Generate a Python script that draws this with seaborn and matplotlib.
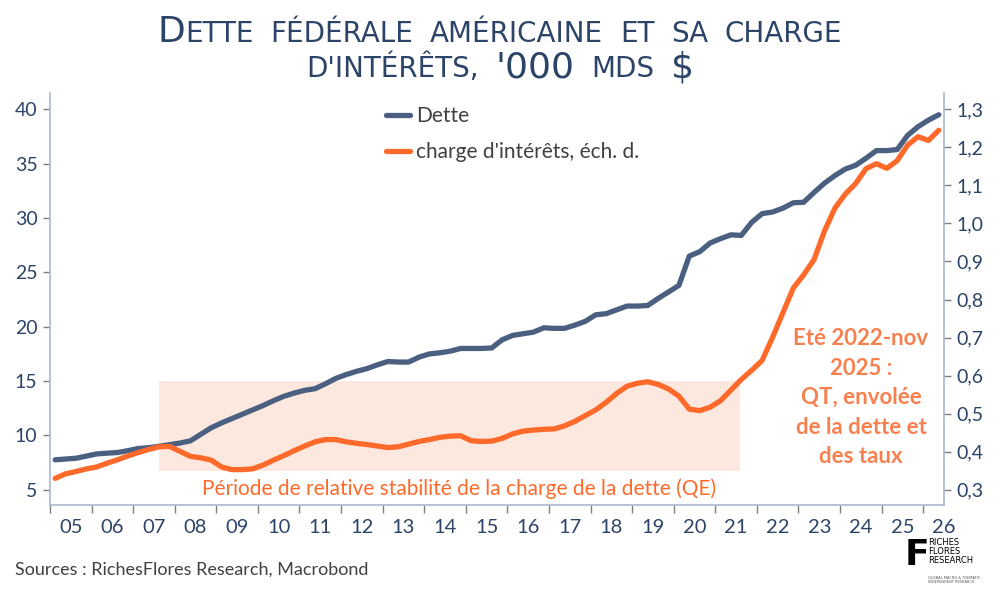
import numpy as np
import pandas as pd
import matplotlib
matplotlib.use("Agg")
import matplotlib.pyplot as plt
import matplotlib.patches as mpatches
from matplotlib.offsetbox import TextArea, HPacker, VPacker, AnnotationBbox
from matplotlib.ticker import FuncFormatter, FixedLocator
import seaborn as sns

# --- data (quarterly) ---
quarters = pd.period_range("2005Q1", periods=86, freq="Q")
dette = [
    7.76, 7.83, 7.90, 8.10, 8.30, 8.37, 8.43, 8.60, 8.80, 8.87,
    9.00, 9.15, 9.30, 9.50, 10.10, 10.70, 11.15, 11.55, 11.95, 12.35,
    12.75, 13.20, 13.60, 13.90, 14.15, 14.30, 14.75, 15.25, 15.60, 15.90,
    16.15, 16.50, 16.80, 16.75, 16.75, 17.20, 17.50, 17.60, 17.75, 18.00,
    18.00, 18.00, 18.05, 18.80, 19.20, 19.35, 19.50, 19.90, 19.85, 19.85,
    20.15, 20.50, 21.10, 21.20, 21.55, 21.90, 21.90, 21.95, 22.60, 23.20,
    23.80, 26.50, 26.90, 27.70, 28.10, 28.45, 28.40, 29.60, 30.40, 30.55,
    30.90, 31.40, 31.45, 32.35, 33.20, 33.90, 34.50, 34.85, 35.50, 36.20,
    36.20, 36.30, 37.60, 38.40, 39.00, 39.50,
]
charge = [
    0.330, 0.342, 0.348, 0.355, 0.360, 0.370, 0.379, 0.389, 0.398, 0.406,
    0.413, 0.414, 0.401, 0.388, 0.384, 0.378, 0.360, 0.353, 0.353, 0.355,
    0.365, 0.378, 0.390, 0.403, 0.415, 0.426, 0.432, 0.432, 0.426, 0.422,
    0.419, 0.415, 0.411, 0.413, 0.420, 0.427, 0.432, 0.438, 0.441, 0.442,
    0.429, 0.427, 0.428, 0.435, 0.447, 0.454, 0.457, 0.459, 0.460, 0.468,
    0.480, 0.495, 0.510, 0.530, 0.553, 0.572, 0.580, 0.584, 0.577, 0.565,
    0.546, 0.512, 0.508, 0.517, 0.534, 0.562, 0.590, 0.614, 0.640, 0.700,
    0.765, 0.830, 0.865, 0.905, 0.980, 1.040, 1.077, 1.105, 1.144, 1.157,
    1.145, 1.165, 1.206, 1.228, 1.218, 1.245,
]
years = list(range(2005, 2027))
year_labels = [f"{y % 100:02d}" for y in years]
left_ticks = [5, 10, 15, 20, 25, 30, 35, 40]
right_ticks = [0.3, 0.4, 0.5, 0.6, 0.7, 0.8, 0.9, 1.0, 1.1, 1.2, 1.3]
# QE period box: start/end year, low/high on left scale
qe_box = (2007.62, 2021.6, 6.77, 15.0)

df = pd.DataFrame({
    "date": [q.year + (q.quarter - 1) / 4 + 0.125 for q in quarters],
    "dette": dette,
    "charge": charge,
})

NAVY = "#2c4468"
DEBT = "#4b6080"
ORANGE = "#ff6a2a"
CORAL = "#f8804f"
SPINE = "#a9b9cf"

sns.set_theme(style="white")
plt.rcParams["font.family"] = ["Lato", "DejaVu Sans"]

fig = plt.figure(figsize=(10, 5.98), dpi=100)
ax = fig.add_axes([0.05, 0.1555, 0.894, 0.689])
ax2 = ax.twinx()

# shaded QE period
x0, x1, y0, y1 = qe_box
ax.add_patch(mpatches.Rectangle((x0, y0), x1 - x0, y1 - y0,
                                facecolor="#fde8df", edgecolor="none", zorder=0))

sns.lineplot(data=df, x="date", y="dette", ax=ax, color=DEBT, linewidth=3.8,
             label="Dette", legend=False)
sns.lineplot(data=df, x="date", y="charge", ax=ax2, color=ORANGE, linewidth=3.8,
             label="charge d'intérêts, éch. d.", legend=False)

# scales: right axis is tied to the left one (5 <-> 0.3, 40 <-> 1.3)
ylo, yhi = 3.6, 41.5
ax.set_ylim(ylo, yhi)
ax2.set_ylim(0.3 + (ylo - 5) / 35, 0.3 + (yhi - 5) / 35)
ax.set_xlim(2005, 2026.5)

ax.set_yticks(left_ticks)
ax2.set_yticks(right_ticks)
ax2.yaxis.set_major_formatter(FuncFormatter(lambda v, p: f"{v:.1f}".replace(".", ",")))

ax.xaxis.set_major_locator(FixedLocator(years))
ax.xaxis.set_major_formatter(FuncFormatter(lambda v, p: ""))
ax.set_xticks([y + 0.5 for y in years], minor=True)
ax.set_xticklabels(year_labels, minor=True)

ax.set_xlabel("")
ax.set_ylabel("")
ax2.set_ylabel("")

for a in (ax, ax2):
    for s in a.spines.values():
        s.set_color(SPINE)
        s.set_linewidth(1.2)
    a.spines["top"].set_visible(False)
ax.spines["right"].set_visible(False)
ax2.spines["left"].set_visible(False)
ax2.spines["bottom"].set_visible(False)

ax.tick_params(axis="y", which="major", direction="out", length=5, width=1,
               color="#7f7f7f", labelsize=14, labelcolor=NAVY, pad=4, left=True)
ax2.tick_params(axis="y", which="major", direction="out", length=5, width=1,
                color="#7f7f7f", labelsize=14, labelcolor=NAVY, pad=4, right=True)
ax.tick_params(axis="x", which="major", direction="out", length=6, width=1,
               color="#7f7f7f", bottom=True)
ax.tick_params(axis="x", which="minor", length=0, labelsize=14.5, labelcolor=NAVY,
               pad=10, bottom=True)
ax.grid(False)
ax2.grid(False)

# legend
h1, l1 = ax.get_legend_handles_labels()
h2, l2 = ax2.get_legend_handles_labels()
fig.legend(h1 + h2, l1 + l2, loc="upper left", bbox_to_anchor=(0.386, 0.822),
           bbox_transform=fig.transFigure, frameon=False, fontsize=15,
           handlelength=1.15, handletextpad=0.3, labelspacing=0.75,
           borderpad=0, borderaxespad=0, labelcolor="#404040")

# annotations
fig.text(0.459, 0.183, "Période de relative stabilité de la charge de la dette (QE)",
         ha="center", va="center", fontsize=15, color=ORANGE)
fig.text(0.861, 0.335, "Eté 2022-nov\n2025 :\nQT, envolée\nde la dette et\ndes taux",
         ha="center", va="center", fontsize=16, fontweight="bold", color=CORAL,
         linespacing=1.5)

# title in (fake) small caps
big = dict(fontsize=26, color=NAVY, family="DejaVu Sans")
small = dict(fontsize=20, color=NAVY, family="DejaVu Sans")


def word(runs):
    return HPacker(children=[TextArea(t, textprops=p) for t, p in runs],
                   align="baseline", pad=0, sep=0)


line1 = HPacker(children=[word([("D", big), ("ETTE", small)]),
                          word([("FÉDÉRALE", small)]),
                          word([("AMÉRICAINE", small)]),
                          word([("ET", small)]),
                          word([("SA", small)]),
                          word([("CHARGE", small)])],
                align="baseline", pad=0, sep=12)
line2 = HPacker(children=[word([("D'INTÉRÊTS,", small)]),
                          word([("'000", big)]),
                          word([("MDS", small)]),
                          word([("$", big)])],
                align="baseline", pad=0, sep=12)
title = VPacker(children=[line1, line2], align="center", pad=0, sep=1)
fig.add_artist(AnnotationBbox(title, (0.5, 0.975), xycoords="figure fraction",
                              box_alignment=(0.5, 1), frameon=False))

# footer
fig.text(0.015, 0.047, "Sources : RichesFlores Research, Macrobond",
         ha="left", va="center", fontsize=13, color="#404040")
fig.text(0.905, 0.072, "F", ha="left", va="center", fontsize=26,
         fontweight="black", color="black", family="DejaVu Sans")
fig.text(0.928, 0.078, "RICHES\nFLORES\nRESEARCH", ha="left", va="center",
         fontsize=6, color="black", linespacing=0.95, family="DejaVu Sans")
fig.text(0.928, 0.03, "GLOBAL MACRO & THEMATIC\nINDEPENDENT RESEARCH", ha="left",
         va="center", fontsize=2.6, color="#555555", family="DejaVu Sans")

fig.savefig("out.png", dpi=100, facecolor="white")
